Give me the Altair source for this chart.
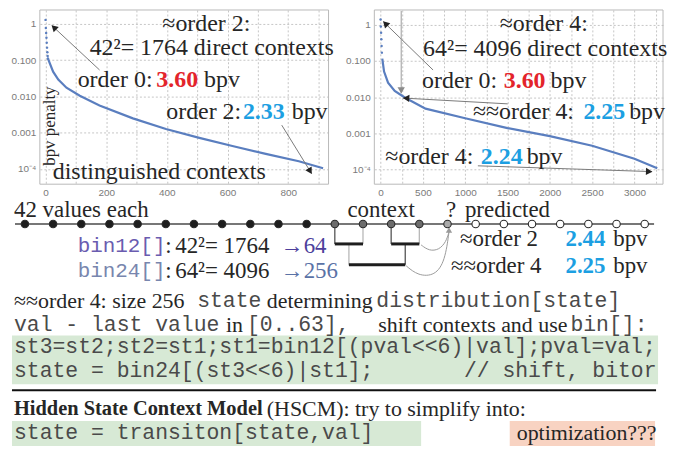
import math
import altair as alt
import pandas as pd

SERIF = "Liberation Serif"
MONO = "Liberation Mono"
SANS = "Liberation Sans"
RED = "#e3242b"
CYAN = "#1c9fe2"
INK = "#262626"
CODE = "#4a4a4a"
CURVE = "#5a7ebf"

# ---------------- data ----------------
L_DOT_X = [0, 1, 2, 3, 4, 5, 6, 7, 8]
L_DOT_Y = [1.28, 0.77, 0.56, 0.41, 0.30, 0.22, 0.165, 0.13, 0.11]
L_X = [8, 25, 42, 69, 113, 178, 288, 397, 507, 616, 726, 835, 915]
L_Y = [0.11, 0.048, 0.029, 0.0173, 0.0104, 0.0056, 0.00248, 0.00126,
       0.00072, 0.00043, 0.00026, 0.000163, 0.000105]

R_DOT_X = [0, 3, 6, 9, 12, 15]
R_DOT_Y = [1.4, 0.9, 0.6, 0.4, 0.26, 0.17]
R_X = [20, 41, 88, 167, 285, 531, 1000, 1500, 2000, 2500, 3000, 3270]
R_Y = [0.116, 0.051, 0.025, 0.0148, 0.0098, 0.0048, 0.0026, 0.00139,
       0.00083, 0.00045, 0.000197, 0.000107]

L_XTICKS = [0, 100, 200, 300, 400, 500, 600, 700, 800, 900]
R_XTICKS = [0, 250, 500, 750, 1000, 1250, 1500, 1750, 2000, 2250, 2500,
            2750, 3000, 3250]
Y_TICKS = [0.0001, 0.001, 0.01, 0.1, 1]

# sequence of 23 values in the diagram
SEQ_POS = list(range(23))
SEQ_KIND = (["past"] * 11) + (["context"] * 4) + ["target"] + (["future"] * 7)
KINDS = ["past", "context", "target", "future"]
KIND_FILL = ["#1e1e1e", "#6c6c6c", "#a9a9a9", "#ffffff"]

W, H = 290, 175
PANEL_LEFT = 40          # page x where the lower panels' plotting area starts
PANEL_W = 628
D_TOP = 198              # page y where the diagram panel starts
D_H = 86
T_TOP = D_TOP + D_H
T_H = 166


def make_plot(dot_x, dot_y, line_x, line_y, xd, yd, frame_left, xvals,
              lstep, yext, segs, arrows, rotated=None):
    lx0, lx1 = xd
    ly0, ly1 = math.log10(yd[0]), math.log10(yd[1])

    def conv(px, py):
        x = lx0 + (px - frame_left) * (lx1 - lx0) / 290.0
        v = 10 ** (ly1 - (py - 3) * (ly1 - ly0) / 180.0)
        return x, v

    X = alt.X("x:Q", scale=alt.Scale(domain=list(xd), nice=False, zero=False),
              axis=alt.Axis(values=xvals, format="d",
                            labelExpr=f"datum.value % {lstep} == 0 ? datum.label : ''",
                            grid=True, gridDash=[2, 2], gridColor="#c6c6c6",
                            domain=False, ticks=False, labelColor="#7a7a7a",
                            labelFont=SANS, labelFontSize=10, labelPadding=3,
                            minExtent=12, maxExtent=12, title=None))
    Y = alt.Y("y:Q", scale=alt.Scale(type="log", domain=list(yd), nice=False),
              axis=alt.Axis(values=Y_TICKS,
                            labelExpr="datum.value > 0.5 ? '1' : (datum.value > 0.0005 ? format(datum.value, '.3f') : '10⁻⁴')",
                            grid=True, gridDash=[2, 2], gridColor="#c6c6c6",
                            domain=False, ticks=False, labelColor="#7a7a7a",
                            labelFont=SANS, labelFontSize=10, labelPadding=4,
                            minExtent=yext, maxExtent=yext, title=None))
    layers = []
    frame = pd.DataFrame({"x": [xd[0]], "x2": [xd[1]], "y": [yd[0]], "y2": [yd[1]]})
    layers.append(alt.Chart(frame).mark_rect(fill="transparent", stroke="#b8b8b8", strokeWidth=1)
                  .encode(x=X, x2="x2:Q", y=Y, y2="y2:Q"))
    layers.append(alt.Chart(pd.DataFrame({"x": line_x, "y": line_y}))
                  .mark_line(color=CURVE, strokeWidth=2.2).encode(x=X, y=Y))
    layers.append(alt.Chart(pd.DataFrame({"x": dot_x, "y": dot_y}))
                  .mark_circle(color=CURVE, size=6, opacity=1).encode(x=X, y=Y))

    rules, heads = [], []
    for (x1, y1, x2, y2, lc, hc) in arrows:
        a, b = conv(x1, y1)
        c, d = conv(x2, y2)
        rules.append(dict(x=a, y=b, x2=c, y2=d, lc=lc))
        ddx, ddy = x2 - x1, y2 - y1
        L = math.hypot(ddx, ddy)
        ang = math.degrees(math.atan2(ddx, -ddy)) % 360
        hx, hy = conv(x2 - 4 * ddx / L, y2 - 4 * ddy / L)
        heads.append(dict(x=hx, y=hy, ang=ang, hc=hc))
    layers.append(alt.Chart(pd.DataFrame(rules)).mark_rule(strokeWidth=1)
                  .encode(x=X, y=Y, x2="x2:Q", y2="y2:Q",
                          color=alt.Color("lc:N", scale=None)))
    layers.append(alt.Chart(pd.DataFrame(heads))
                  .mark_point(shape="triangle", filled=True, size=55, opacity=1)
                  .encode(x=X, y=Y, angle=alt.Angle("ang:Q", scale=None),
                          color=alt.Color("hc:N", scale=None)))

    for weight in ["normal", "bold"]:
        rows = []
        for (t, px, py, col, w) in segs:
            if w == weight:
                a, b = conv(px, py)
                rows.append(dict(x=a, y=b, t=t, c=col))
        if rows:
            layers.append(alt.Chart(pd.DataFrame(rows))
                          .mark_text(font=SERIF, fontSize=24, fontWeight=weight,
                                     align="left", baseline="middle")
                          .encode(x=X, y=Y, text="t:N",
                                  color=alt.Color("c:N", scale=None)))
    if rotated:
        t, px, py = rotated
        a, b = conv(px, py)
        layers.append(alt.Chart(pd.DataFrame([dict(x=a, y=b, t=t)]))
                      .mark_text(font=SERIF, fontSize=17, angle=270,
                                 align="center", baseline="middle", color=INK)
                      .encode(x=X, y=Y, text="t:N"))
    return alt.layer(*layers).properties(width=W, height=H)


left = make_plot(
    L_DOT_X, L_DOT_Y, L_X, L_Y, (-18.7, 933), (3.8e-5, 2.4), 40,
    L_XTICKS, 200, 32,
    [("≈order 2:", 163, 17, INK, "normal"),
     ("42²= 1764 direct contexts", 90, 42, INK, "normal"),
     ("order 0:", 78, 75, INK, "normal"),
     ("3.60", 157, 75, RED, "bold"),
     ("bpv", 205, 75, INK, "normal"),
     ("order 2:", 167, 108, INK, "normal"),
     ("2.33", 244, 108, CYAN, "bold"),
     ("bpv", 293, 108, INK, "normal"),
     ("distinguished contexts", 53, 170, INK, "normal")],
    [(100, 65, 52, 19, "#7a7a7a", "#222222"),
     (283, 122, 313, 172, "#7a7a7a", "#222222")],
    rotated=("bpv penalty", 50, 123))

right = make_plot(
    R_DOT_X, R_DOT_Y, R_X, R_Y, (-74, 3338), (3.9e-5, 2.57), 366,
    R_XTICKS, 500, 26,
    [("≈order 4:", 492, 18, INK, "normal"),
     ("64²= 4096 direct contexts", 415, 43, INK, "normal"),
     ("order 0:", 414, 76, INK, "normal"),
     ("3.60", 496, 76, RED, "bold"),
     ("bpv", 543, 76, INK, "normal"),
     ("≈≈order 4:", 465, 108, INK, "normal"),
     ("2.25", 576, 108, CYAN, "bold"),
     ("bpv", 622, 108, INK, "normal"),
     ("≈order 4:", 377, 155, INK, "normal"),
     ("2.24", 473, 155, CYAN, "bold"),
     ("bpv", 519, 155, INK, "normal")],
    [(425, 65, 375, 15, "#7a7a7a", "#222222"),
     (393, 4, 393, 89, "#9a9a9a", "#8a8a8a"),
     (500, 100, 395, 94, "#7a7a7a", "#222222"),
     (470, 164, 645, 170, "#7a7a7a", "#222222")])

top = alt.hconcat(left, right, spacing=10)

# ---------------- diagram panel (x in sequence-index units) ----------------
def di(px):
    return (px - 25) / 28.3


DX = alt.X("x:Q", scale=alt.Scale(domain=[di(PANEL_LEFT), di(PANEL_LEFT + PANEL_W)],
                                   nice=False, zero=False), axis=None)
DY = alt.Y("y:Q", scale=alt.Scale(domain=[D_TOP, D_TOP + D_H], nice=False, zero=False, reverse=True), axis=None)


def dtext(rows, font, size, weight="normal"):
    df = pd.DataFrame([dict(x=di(px), y=py, t=t, c=c) for (t, px, py, c) in rows])
    return (alt.Chart(df).mark_text(font=font, fontSize=size, fontWeight=weight,
                                    align="left", baseline="middle")
            .encode(x=DX, y=DY, text="t:N", color=alt.Color("c:N", scale=None)))


ROW_Y = 225
seq_df = pd.DataFrame({"x": SEQ_POS, "kind": SEQ_KIND, "y": [ROW_Y] * len(SEQ_POS)})
d_base = (alt.Chart(pd.DataFrame({"x": [di(15)], "x2": [di(657)], "y": [ROW_Y]}))
          .mark_rule(color="#4a4a4a", strokeWidth=1.6)
          .encode(x=DX, x2="x2:Q", y=DY))
brk_thin = pd.DataFrame([
    dict(x=11, y=225, y2=245, c="#555555"), dict(x=12, y=225, y2=245, c="#b8b8b8"),
    dict(x=13, y=225, y2=245, c="#555555"), dict(x=14, y=225, y2=245, c="#b8b8b8"),
    dict(x=11.5, y=245, y2=266, c="#b8b8b8"), dict(x=13.5, y=245, y2=266, c="#555555")])
d_thin = (alt.Chart(brk_thin).mark_rule(strokeWidth=1.3)
          .encode(x=DX, y=DY, y2="y2:Q", color=alt.Color("c:N", scale=None)))
brk_thick = pd.DataFrame([dict(x=11, x2=12, y=245), dict(x=13, x2=14, y=245),
                          dict(x=11.5, x2=13.5, y=266)])
d_thick = (alt.Chart(brk_thick).mark_rule(strokeWidth=3, color="#1e1e1e")
           .encode(x=DX, x2="x2:Q", y=DY))
curve_pts = [("a", 0, 423, 246), ("a", 1, 431, 252), ("a", 2, 441, 251), ("a", 3, 448, 243), ("a", 4, 451, 233),
             ("b", 0, 408, 267), ("b", 1, 420, 277), ("b", 2, 437, 277), ("b", 3, 447, 262), ("b", 4, 451, 233)]
curve_df = pd.DataFrame([dict(g=g, o=o, x=di(px), y=py) for (g, o, px, py) in curve_pts])
d_curves = (alt.Chart(curve_df).mark_line(color="#9a9a9a", strokeWidth=1, interpolate="basis")
            .encode(x=DX, y=DY, detail="g:N", order="o:Q"))
d_head = (alt.Chart(pd.DataFrame({"x": [di(451)], "y": [232]}))
          .mark_point(shape="triangle", filled=True, size=40, color="#9a9a9a", opacity=1)
          .encode(x=DX, y=DY))
d_dots = (alt.Chart(seq_df).mark_point(filled=True, size=56, stroke="#2a2a2a",
                                       strokeWidth=1.1, opacity=1)
          .encode(x=DX, y=DY,
                  color=alt.Color("kind:N", scale=alt.Scale(domain=KINDS, range=KIND_FILL),
                                  legend=None)))
d_txt = dtext([("42 values each", 14, 211, INK), ("context", 349, 211, INK),
               ("?", 448, 211, INK), ("predicted", 467, 211, INK),
               (":", 166, 247, INK), ("42²= 1764", 176, 247, INK),
               (":", 166, 272, INK), ("64²= 4096", 176, 272, INK),
               ("→", 282, 247, "#4d3f9c"), ("64", 305, 247, "#4d3f9c"),
               ("→", 282, 272, "#5a72a6"), ("256", 305, 272, "#5a72a6"),
               ("≈order 2", 462, 240, INK), ("bpv", 616, 240, INK),
               ("≈≈order 4", 453, 267, INK), ("bpv", 616, 267, INK)], SERIF, 23)
d_bold = dtext([("2.44", 568, 240, CYAN), ("2.25", 568, 267, CYAN)], SERIF, 23, "bold")
d_mono = dtext([("bin12[]", 78, 247, "#6a5cb0"), ("bin24[]", 78, 272, "#7886ae")], MONO, 21)

diag = (alt.layer(d_base, d_thin, d_thick, d_curves, d_head, d_dots, d_txt, d_bold, d_mono)
        .properties(width=PANEL_W, height=D_H))

# ---------------- text panel ----------------
TX = alt.X("x:Q", scale=alt.Scale(domain=[PANEL_LEFT, PANEL_LEFT + PANEL_W], nice=False, zero=False), axis=None)
TY = alt.Y("y:Q", scale=alt.Scale(domain=[T_TOP, T_TOP + T_H], nice=False, zero=False, reverse=True), axis=None)

boxes = pd.DataFrame([dict(x=12, x2=661, y=337, y2=386, c="#d7e9d5"),
                      dict(x=12, x2=423, y=423, y2=448, c="#d7e9d5"),
                      dict(x=512, x2=658, y=423, y2=448, c="#f8d3c2")])
t_boxes = (alt.Chart(boxes).mark_rect()
           .encode(x=TX, x2="x2:Q", y=TY, y2="y2:Q", color=alt.Color("c:N", scale=None)))
t_sep = (alt.Chart(pd.DataFrame({"x": [12], "x2": [659], "y": [392]}))
         .mark_rule(color="#111111", strokeWidth=2)
         .encode(x=TX, x2="x2:Q", y=TY))


def ttext(rows, font, size, weight="normal", color=INK):
    df = pd.DataFrame([dict(x=px, y=py, t=t) for (t, px, py) in rows])
    return (alt.Chart(df).mark_text(font=font, fontSize=size, fontWeight=weight,
                                    align="left", baseline="middle", color=color)
            .encode(x=TX, y=TY, text="t:N"))


t_serif = ttext([("≈≈order 4: size 256", 14, 302), ("determining", 268, 302),
                 ("in", 227, 326), ("shift contexts and use", 380, 326),
                 ("(HSCM): try to simplify into:", 268, 411),
                 ("optimization???", 519, 435)], SERIF, 22)
t_boldt = ttext([("Hidden State Context Model", 14, 411)], SERIF, 20.5, "bold")
t_mono = ttext([("state", 198, 302), ("distribution[state]", 378, 302),
                ("val - last value", 14, 326), ("[0..63],", 248, 326), ("bin[]:", 573, 326),
                ("st3=st2;st2=st1;st1=bin12[(pval<<6)|val];pval=val;", 14, 349),
                ("state = bin24[(st3<<6)|st1];", 14, 373), ("// shift, bitor", 466, 373),
                ("state = transiton[state,val]", 14, 435)], MONO, 21.5, color=CODE)

txt = (alt.layer(t_boxes, t_sep, t_serif, t_boldt, t_mono)
       .properties(width=PANEL_W, height=T_H))

chart = (alt.vconcat(top, diag, txt, spacing=0)
         .properties(padding=0)
         .configure_view(strokeWidth=0))

chart.save("out.html", embed_options={"renderer": "svg", "actions": False})
